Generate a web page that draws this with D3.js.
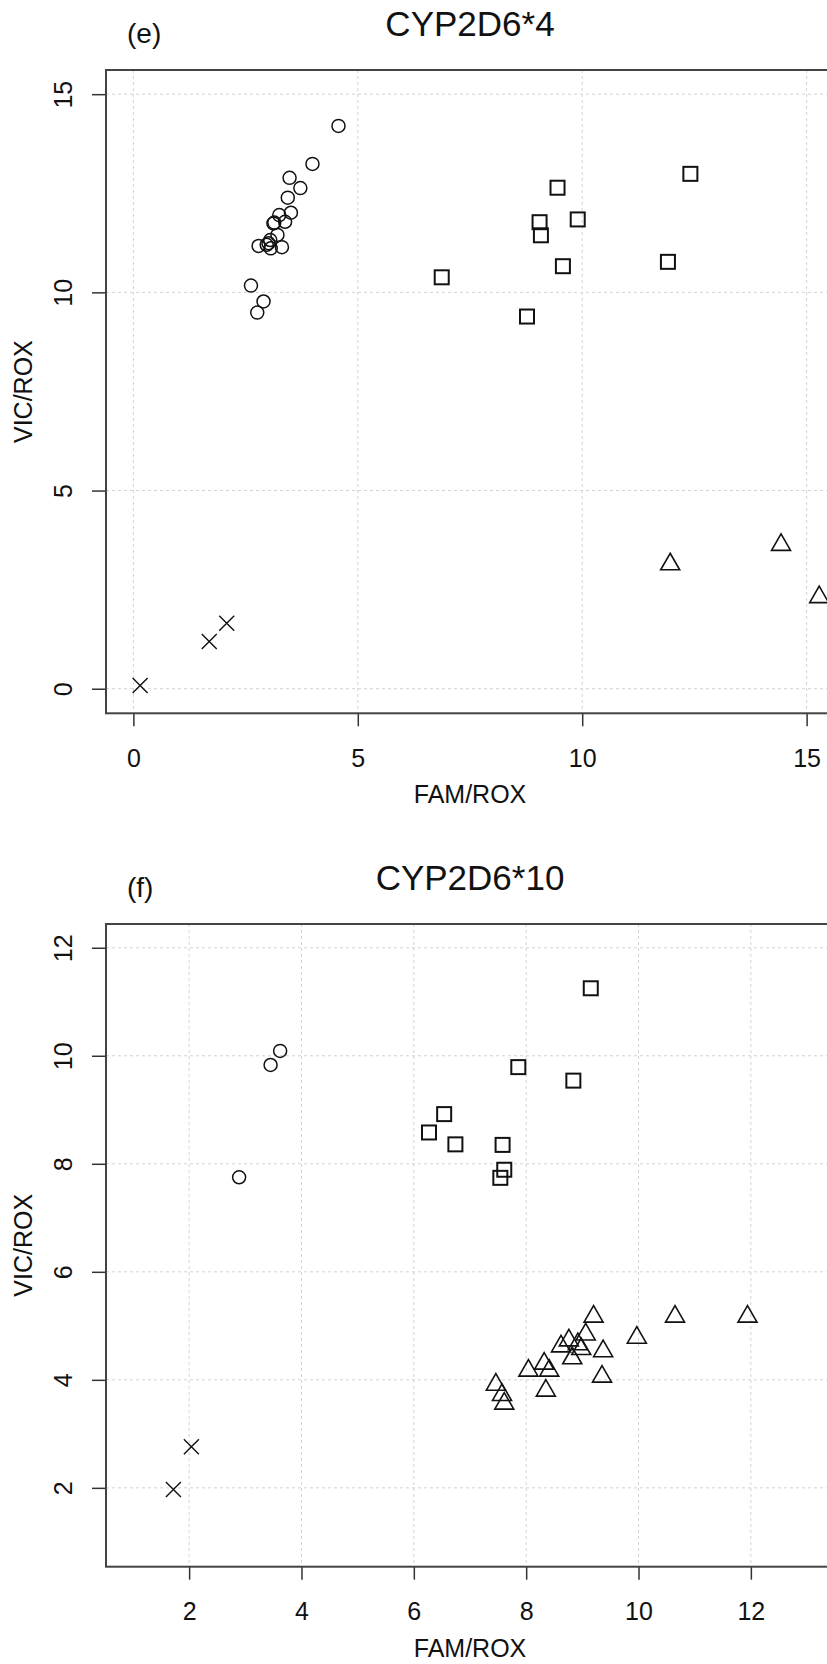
<!doctype html>
<html>
<head>
<meta charset="utf-8">
<title>CYP2D6 genotyping</title>
<script src="https://d3js.org/d3.v7.min.js"></script>
<style>
  body { margin: 0; background: #fff; }
  svg text { font-family: "Liberation Sans", Arial, sans-serif; fill: #111; }
  .grid line { stroke: #d3d3d3; stroke-width: 1; stroke-dasharray: 3,3; }
  .mark { fill: none; stroke: #111; }
</style>
</head>
<body>
<svg width="827" height="1664"></svg>
<script>
// ---- panel (e) CYP2D6*4 ----
var e_circleX = [4.57, 3.99, 3.48, 3.72, 3.44, 3.51, 3.25, 3.38, 3.12, 3.14, 3.21, 3.05, 3.01, 2.79, 3.06, 3.31, 2.97, 2.62, 2.90, 2.76];
var e_circleY = [14.20, 13.24, 12.89, 12.63, 12.39, 12.01, 11.95, 11.78, 11.74, 11.76, 11.45, 11.32, 11.24, 11.17, 11.11, 11.14, 11.20, 10.17, 9.77, 9.49];
var e_squareX = [6.87, 8.77, 9.45, 9.05, 9.08, 9.90, 9.57, 12.41, 11.91];
var e_squareY = [10.38, 9.39, 12.64, 11.77, 11.44, 11.84, 10.66, 12.99, 10.77];
var e_triX = [11.96, 14.43, 15.28];
var e_triY = [3.14, 3.63, 2.31];
var e_crossX = [0.15, 1.69, 2.08];
var e_crossY = [0.08, 1.19, 1.65];
var e_xTicks = [0, 5, 10, 15];
var e_yTicks = [0, 5, 10, 15];

// ---- panel (f) CYP2D6*10 ----
var f_circleX = [2.89, 3.45, 3.62];
var f_circleY = [7.75, 9.83, 10.09];
var f_squareX = [9.15, 7.86, 8.84, 6.54, 6.27, 6.74, 7.58, 7.61, 7.54];
var f_squareY = [11.25, 9.79, 9.54, 8.92, 8.58, 8.36, 8.35, 7.89, 7.74];
var f_triX = [9.20, 10.65, 11.94, 9.97, 9.06, 8.76, 9.37, 8.62, 8.98, 8.82, 8.92, 8.32, 8.41, 8.04, 8.35, 9.35, 7.46, 7.57, 7.61];
var f_triY = [5.17, 5.17, 5.17, 4.78, 4.84, 4.73, 4.53, 4.62, 4.57, 4.40, 4.66, 4.30, 4.17, 4.17, 3.80, 4.06, 3.91, 3.72, 3.56];
var f_crossX = [1.72, 2.04];
var f_crossY = [1.97, 2.76];
var f_xTicks = [2, 4, 6, 8, 10, 12];
var f_yTicks = [2, 4, 6, 8, 10, 12];

var svg = d3.select("svg");

function drawPanel(p) {
  var x = d3.scaleLinear().domain(p.xDomain).range([p.left, p.right]);
  var y = d3.scaleLinear().domain(p.yDomain).range([p.bottom, p.top]);

  svg.append("clipPath").attr("id", "clip-" + p.id)
    .append("rect")
    .attr("x", p.left).attr("y", p.top)
    .attr("width", p.right - p.left).attr("height", p.bottom - p.top);

  // dotted grid at the tick positions
  var grid = svg.append("g").attr("class", "grid").attr("clip-path", "url(#clip-" + p.id + ")");
  grid.selectAll(".vx").data(p.xTicks).enter().append("line")
    .attr("x1", d => x(d)).attr("x2", d => x(d))
    .attr("y1", p.top).attr("y2", p.bottom);
  grid.selectAll(".hy").data(p.yTicks).enter().append("line")
    .attr("x1", p.left).attr("x2", p.right)
    .attr("y1", d => y(d)).attr("y2", d => y(d));

  // axes
  var xa = svg.append("g")
    .attr("transform", "translate(0," + p.bottom + ")")
    .call(d3.axisBottom(x).tickValues(p.xTicks).tickSize(13).tickPadding(23).tickFormat(d3.format("d")));
  xa.select(".domain").remove();
  xa.selectAll("line").attr("stroke", "#333").attr("stroke-width", 1.5);
  xa.selectAll("text").style("font-size", "25px").attr("fill", "#111");

  var ya = svg.append("g")
    .attr("transform", "translate(" + p.left + ",0)")
    .call(d3.axisLeft(y).tickValues(p.yTicks).tickSize(14).tickFormat(d3.format("d")));
  ya.select(".domain").remove();
  ya.selectAll("line").attr("stroke", "#333").attr("stroke-width", 1.5);
  ya.selectAll("text")
    .style("font-size", "25px").attr("fill", "#111")
    .attr("transform", "rotate(-90)")
    .attr("x", 0).attr("y", -34).attr("dy", 0)
    .style("text-anchor", "middle");

  // frame
  svg.append("rect")
    .attr("x", p.left).attr("y", p.top)
    .attr("width", p.right - p.left).attr("height", p.bottom - p.top)
    .attr("fill", "none").attr("stroke", "#444").attr("stroke-width", 2);

  // labels
  var cx = (p.left + p.right) / 2;
  svg.append("text").attr("x", cx).attr("y", p.bottom + 90)
    .attr("text-anchor", "middle").style("font-size", "25px").text("FAM/ROX");
  svg.append("text")
    .attr("transform", "translate(32," + ((p.top + p.bottom) / 2) + ") rotate(-90)")
    .attr("text-anchor", "middle").style("font-size", "25px").text("VIC/ROX");
  svg.append("text").attr("x", cx).attr("y", p.titleY)
    .attr("text-anchor", "middle").style("font-size", "35px").text(p.title);
  svg.append("text").attr("x", 127).attr("y", p.titleY + 7)
    .style("font-size", "28px").text(p.tag);

  // points
  var pts = svg.append("g").attr("clip-path", "url(#clip-" + p.id + ")");
  function pairs(xs, ys) { return xs.map((v, i) => [v, ys[i]]); }

  pts.selectAll(".c").data(pairs(p.circleX, p.circleY)).enter().append("circle")
    .attr("class", "mark").attr("stroke-width", 1.5)
    .attr("cx", d => x(d[0])).attr("cy", d => y(d[1])).attr("r", 6.5);

  pts.selectAll(".s").data(pairs(p.squareX, p.squareY)).enter().append("rect")
    .attr("class", "mark").attr("stroke-width", 2)
    .attr("x", d => x(d[0]) - 7).attr("y", d => y(d[1]) - 7)
    .attr("width", 14).attr("height", 14);

  pts.selectAll(".t").data(pairs(p.triX, p.triY)).enter().append("path")
    .attr("class", "mark").attr("stroke-width", 1.6)
    .attr("transform", d => "translate(" + x(d[0]) + "," + y(d[1]) + ")")
    .attr("d", "M0,-11L9.5,5.5L-9.5,5.5Z");

  pts.selectAll(".x").data(pairs(p.crossX, p.crossY)).enter().append("path")
    .attr("class", "mark").attr("stroke-width", 1.4)
    .attr("transform", d => "translate(" + x(d[0]) + "," + y(d[1]) + ")")
    .attr("d", "M-7.5,-7.5L7.5,7.5M-7.5,7.5L7.5,-7.5");
}

drawPanel({
  id: "e", title: "CYP2D6*4", tag: "(e)", titleY: 36,
  left: 106, right: 834, top: 70, bottom: 713.3,
  xDomain: [-0.61, 15.61], yDomain: [-0.62, 15.61],
  xTicks: e_xTicks, yTicks: e_yTicks,
  circleX: e_circleX, circleY: e_circleY,
  squareX: e_squareX, squareY: e_squareY,
  triX: e_triX, triY: e_triY,
  crossX: e_crossX, crossY: e_crossY
});

drawPanel({
  id: "f", title: "CYP2D6*10", tag: "(f)", titleY: 890,
  left: 106, right: 834, top: 924, bottom: 1566.7,
  xDomain: [0.52, 13.48], yDomain: [0.54, 12.44],
  xTicks: f_xTicks, yTicks: f_yTicks,
  circleX: f_circleX, circleY: f_circleY,
  squareX: f_squareX, squareY: f_squareY,
  triX: f_triX, triY: f_triY,
  crossX: f_crossX, crossY: f_crossY
});
</script>
</body>
</html>
